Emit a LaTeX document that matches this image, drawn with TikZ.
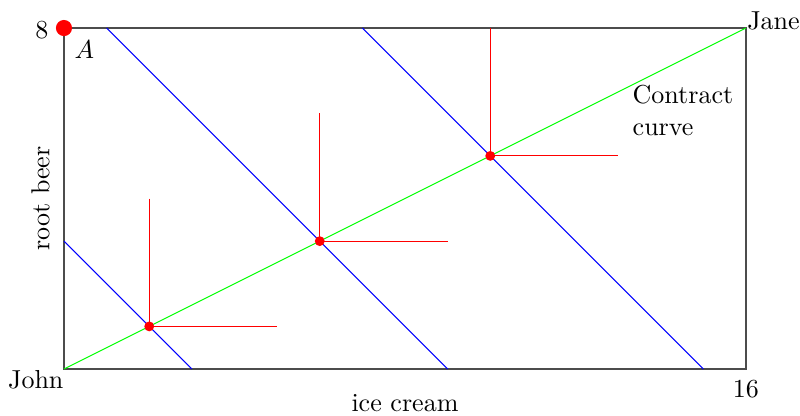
\documentclass[tikz,border=0pt]{standalone}
\begin{document}
\begin{tikzpicture}[x=0.576cm,y=0.576cm,
  frame/.style={draw=black!70,line width=0.4pt},
  contract/.style={draw=green,line width=0.4pt},
  indiff/.style={draw=blue,line width=0.4pt},
  lshape/.style={draw=red,line width=0.4pt},
  dot/.style={circle,fill=red,inner sep=0pt,minimum size=3.8pt},
  bigdot/.style={circle,fill=red,inner sep=0pt,minimum size=6.2pt},
  lbl/.style={inner sep=0pt,font=\normalsize}]
\useasboundingbox (-1.501,-1.079) rectangle (17.267,8.657);
% corners
\coordinate (O) at (0,0);
\coordinate (BR) at (16,0);
\coordinate (TR) at (16,8);
\coordinate (TL) at (0,8);
% box
\draw[frame] (O) -- (BR) -- (TR) -- (TL) -- cycle;
% contract curve
\draw[contract] (O) -- (TR);
% indifference lines
\coordinate (b1s) at (0,3); \coordinate (b1e) at (3,0);
\coordinate (b2s) at (1,8); \coordinate (b2e) at (9,0);
\coordinate (b3s) at (7,8); \coordinate (b3e) at (15,0);
\draw[indiff] (b1s) -- (b1e);
\draw[indiff] (b2s) -- (b2e);
\draw[indiff] (b3s) -- (b3e);
% tangency points
\coordinate (p1) at (2,1);
\coordinate (p2) at (6,3);
\coordinate (p3) at (10,5);
\coordinate (u1) at (2,4); \coordinate (r1) at (5,1);
\coordinate (u2) at (6,6); \coordinate (r2) at (9,3);
\coordinate (u3) at (10,8); \coordinate (r3) at (13,5);
\draw[lshape] (u1) -- (p1) -- (r1);
\draw[lshape] (u2) -- (p2) -- (r2);
\draw[lshape] (u3) -- (p3) -- (r3);
\node[dot] (d1) at (p1) {};
\node[dot] (d2) at (p2) {};
\node[dot] (d3) at (p3) {};
\node[bigdot] (A) at (TL) {};
% labels
\node[lbl,anchor=east] (eight) at (-0.352,7.96) {8};
\node[lbl,anchor=base west] (Alab) at (0.235,7.29) {$A$};
\node[lbl,anchor=base west] (jane) at (16.02,7.97) {Jane};
\node[lbl,anchor=base east] (john) at (0,-0.455) {John};
\node[lbl,anchor=base] (sixteen) at (16,-0.66) {16};
\node[lbl,anchor=base] (ice) at (8,-1.0) {ice cream};
\node[lbl,anchor=base,rotate=90] (root) at (-0.34,4) {root beer};
\node[lbl,anchor=north west,align=left] (cc) at (13.33,6.663) {Contract\\curve};
\end{tikzpicture}
\end{document}
